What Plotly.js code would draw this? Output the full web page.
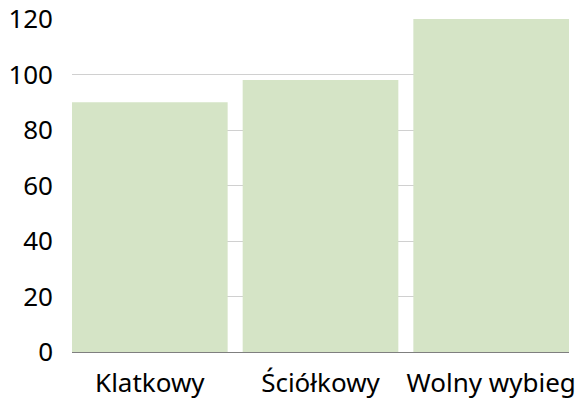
<!DOCTYPE html>
<html>
<head>
<meta charset="utf-8">
<script src="https://cdn.plot.ly/plotly-3.0.1.min.js"></script>
<style>html,body{margin:0;padding:0;background:#fff}#chart{width:583px;height:400px}</style>
</head>
<body>
<div id="chart"></div>
<script>
const categories = ["Klatkowy", "Ściółkowy", "Wolny wybieg"];
const values = [90, 98, 120];
const yTicks = [0, 20, 40, 60, 80, 100, 120];

const gap = 0.088;

const trace = {
  type: "bar",
  x: categories,
  y: values,
  marker: {color: "#d5e4c6"},
  hoverinfo: "none"
};

const layout = {
  width: 583,
  height: 400,
  margin: {l: 72, r: 14, t: 19, b: 48},
  paper_bgcolor: "#fff",
  plot_bgcolor: "#fff",
  bargap: gap,
  showlegend: false,
  font: {family: "Noto Sans, Open Sans, sans-serif", size: 26, color: "#000"},
  xaxis: {
    type: "category",
    range: [-0.5 + gap / 2, categories.length - 0.5 - gap / 2],
    showgrid: false,
    showline: true,
    linecolor: "#7f7f7f",
    linewidth: 1,
    layer: "below traces",
    ticks: "",
    ticklabelstandoff: 8,
    tickfont: {size: 26, color: "#000"}
  },
  yaxis: {
    range: [0, 120],
    tickvals: yTicks,
    showgrid: true,
    gridcolor: "#d0d0d0",
    gridwidth: 1,
    zeroline: false,
    showline: false,
    ticks: "",
    ticklabelstandoff: 18,
    tickfont: {size: 26, color: "#000"}
  }
};

Plotly.newPlot("chart", [trace], layout, {displayModeBar: false, staticPlot: true});
</script>
</body>
</html>
